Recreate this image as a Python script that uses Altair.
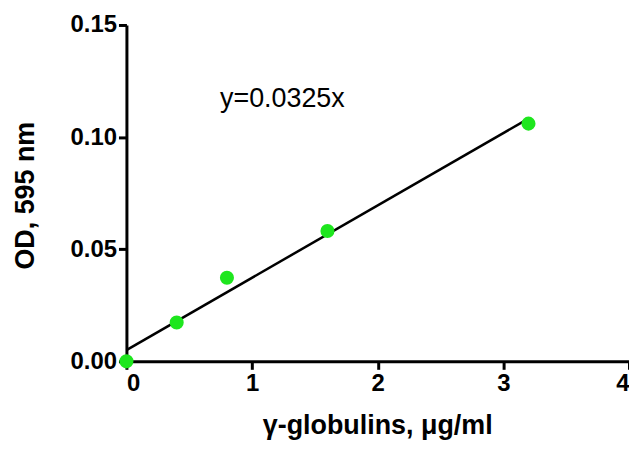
import altair as alt
import pandas as pd

conc = [0.0, 0.4, 0.8, 1.6, 3.2]
od = [0.0, 0.0173, 0.0373, 0.0581, 0.106]

eq_label = ["y=0.0325x"]
eq_x = [0.745]
eq_y = [0.1136]

x_ticks = [0, 1, 2, 3, 4]
y_ticks = [0.0, 0.05, 0.10, 0.15]

df = pd.DataFrame({"conc": conc, "od": od})
eq_df = pd.DataFrame({"label": eq_label, "x": eq_x, "y": eq_y})

FONT = "Liberation Sans"

xscale = alt.Scale(domain=[0, 4], nice=False, zero=True)
yscale = alt.Scale(domain=[0, 0.15], nice=False, zero=True)

xaxis = alt.Axis(
    values=x_ticks, format="d", title="γ-globulins, μg/ml",
    titleX=252, titleY=73, titleBaseline="alphabetic", titleAlign="center",
)
yaxis = alt.Axis(
    values=y_ticks, format=".2f", title="OD, 595 nm",
    titleX=-93, titleY=171, titleBaseline="alphabetic", titleAlign="center", titleAngle=270,
)

base = alt.Chart(df)

fit = base.transform_regression("conc", "od", extent=[0, 3.2]).mark_line(
    color="black", strokeWidth=2.5
).encode(
    x=alt.X("conc:Q", scale=xscale, axis=xaxis),
    y=alt.Y("od:Q", scale=yscale, axis=yaxis),
)

pts = base.mark_point(filled=True, color="#1ee61e", size=200, opacity=1).encode(
    x=alt.X("conc:Q", scale=xscale),
    y=alt.Y("od:Q", scale=yscale),
)

eq = alt.Chart(eq_df).mark_text(
    align="left", baseline="alphabetic", font=FONT, fontSize=27, color="black"
).encode(
    x=alt.X("x:Q", scale=xscale),
    y=alt.Y("y:Q", scale=yscale),
    text="label:N",
)

chart = alt.layer(fit, pts, eq).properties(
    width=505, height=338,
    autosize=alt.AutoSizeParams(type="none"),
    padding={"left": 119, "top": 16, "right": 0, "bottom": 80},
).configure_view(stroke=None).configure_axis(
    grid=False,
    domainColor="black", domainWidth=3,
    tickColor="black", tickWidth=3, tickSize=8,
    labelFont=FONT, labelFontWeight="bold", labelFontSize=24, labelColor="black",
    labelPadding=2,
    titleFont=FONT, titleFontWeight="bold", titleFontSize=27, titleColor="black",
)

chart.save("out.html", embed_options={"renderer": "svg", "actions": False})
